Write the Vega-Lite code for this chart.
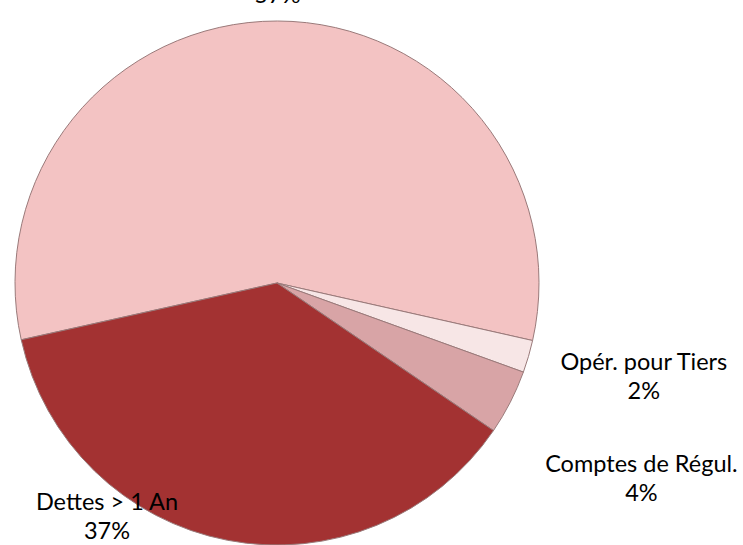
{
  "$schema": "https://vega.github.io/schema/vega-lite/v6.json",
  "autosize": {"type": "none"},
  "width": 554,
  "height": 524,
  "padding": {"left": 0, "top": 21, "right": 189, "bottom": 0},
  "background": "white",
  "config": {"view": {"stroke": null}},
  "data": {
    "values": [
      {"i": 1, "name": "Dettes < 1 An", "value": 57},
      {"i": 2, "name": "Opér. pour Tiers", "value": 2},
      {"i": 3, "name": "Comptes de Régul.", "value": 4},
      {"i": 4, "name": "Dettes > 1 An", "value": 37}
    ]
  },
  "transform": [
    {"calculate": "datum.name + '\\n' + datum.value + '%'", "as": "label"}
  ],
  "encoding": {
    "theta": {"field": "value", "type": "quantitative", "stack": true, "scale": {"range": [4.494, 10.777]}},
    "order": {"field": "i", "type": "ordinal"}
  },
  "layer": [
    {
      "mark": {"type": "arc", "stroke": "#9a7a7a", "strokeWidth": 1},
      "encoding": {
        "color": {
          "field": "name",
          "type": "nominal",
          "scale": {
            "domain": ["Dettes < 1 An", "Opér. pour Tiers", "Comptes de Régul.", "Dettes > 1 An"],
            "range": ["#F3C3C3", "#F7E6E6", "#D8A4A6", "#A33232"]
          },
          "legend": null
        }
      }
    },
    {
      "mark": {"type": "text", "radius": 301, "dy": -15, "font": "Lato", "fontSize": 23.5, "lineHeight": 29, "lineBreak": "\n", "align": "center", "baseline": "middle", "color": "#000000"},
      "encoding": {"text": {"condition": {"test": "datum.i == 1", "field": "label"}, "value": ""}}
    },
    {
      "mark": {"type": "text", "radius": 378, "dx": 4, "dy": -26, "font": "Lato", "fontSize": 23.5, "lineHeight": 29, "lineBreak": "\n", "align": "center", "baseline": "middle", "color": "#000000"},
      "encoding": {"text": {"condition": {"test": "datum.i == 2", "field": "label"}, "value": ""}}
    },
    {
      "mark": {"type": "text", "radius": 416, "dx": -6, "dy": -7, "font": "Lato", "fontSize": 23.5, "lineHeight": 29, "lineBreak": "\n", "align": "center", "baseline": "middle", "color": "#000000"},
      "encoding": {"text": {"condition": {"test": "datum.i == 3", "field": "label"}, "value": ""}}
    },
    {
      "mark": {"type": "text", "radius": 297, "dx": -114, "dy": -72, "font": "Lato", "fontSize": 23.5, "lineHeight": 29, "lineBreak": "\n", "align": "center", "baseline": "middle", "color": "#000000"},
      "encoding": {"text": {"condition": {"test": "datum.i == 4", "field": "label"}, "value": ""}}
    }
  ]
}
